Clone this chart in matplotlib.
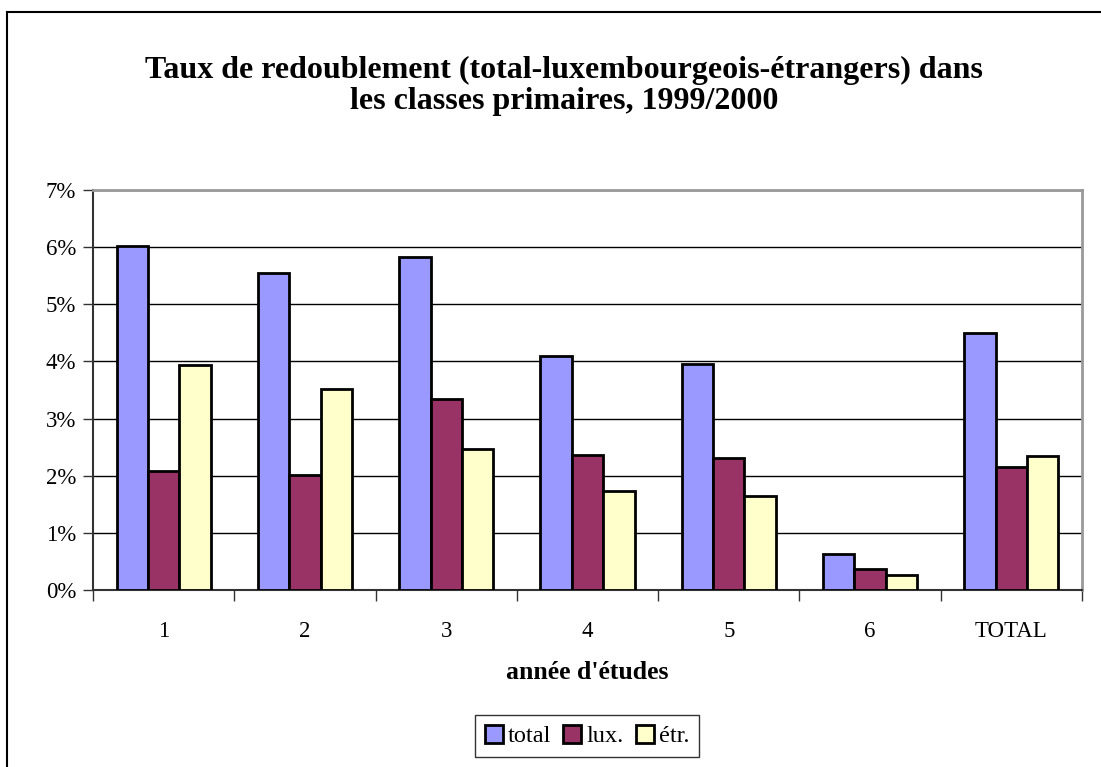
import numpy as np
import matplotlib
matplotlib.use('Agg')
import matplotlib.pyplot as plt
from matplotlib.patches import Rectangle
from matplotlib.ticker import FuncFormatter, FixedLocator

plt.rcParams['font.family'] = ['Liberation Serif', 'DejaVu Serif']

# données (taux de redoublement, en %)
categories = ['1', '2', '3', '4', '5', '6', 'TOTAL']
total = [6.02, 5.54, 5.82, 4.10, 3.95, 0.63, 4.50]
lux = [2.09, 2.02, 3.35, 2.36, 2.31, 0.36, 2.15]
etr = [3.93, 3.51, 2.47, 1.74, 1.65, 0.26, 2.35]
series_names = ['total', 'lux.', 'étr.']
colors = ['#9999FF', '#993366', '#FFFFCC']

W, H = 1101, 767
fig = plt.figure(figsize=(W / 100, H / 100), dpi=100)

# cadre extérieur
fig.patches.append(Rectangle((7 / W, -0.1), 2, 1.1 - 12 / H, transform=fig.transFigure,
                             fill=False, edgecolor='black', linewidth=1.5))

ax = fig.add_axes([93 / W, (H - 590) / H, (1082 - 93) / W, 400 / H])

x = np.arange(len(categories))
w = 1 / 4.5
for i, (vals, name, c) in enumerate(zip([total, lux, etr], series_names, colors)):
    ax.bar(x + (i - 1) * w, vals, width=w, color=c, edgecolor='black',
           linewidth=2, label=name, zorder=3)

ax.set_xlim(-0.5, len(categories) - 0.5)
ax.set_ylim(0, 7)
ax.set_yticks(np.arange(0, 8, 1))
ax.yaxis.set_major_formatter(FuncFormatter(lambda v, p: f'{int(v)}%'))
ax.yaxis.grid(True, color='black', linewidth=1, zorder=0)

ax.xaxis.set_major_locator(FixedLocator(np.arange(-0.5, len(categories), 1)))
ax.xaxis.set_minor_locator(FixedLocator(x))
ax.set_xticklabels([], minor=False)
ax.set_xticklabels(categories, minor=True)
ax.tick_params(axis='x', which='major', length=8, width=1, color='#333333')
ax.tick_params(axis='x', which='minor', length=0, pad=22, labelsize=16.5)
ax.tick_params(axis='y', length=7, width=1, color='#333333', pad=5, labelsize=16.5)

ax.spines['left'].set_color('#333333')
ax.spines['left'].set_linewidth(1.5)
ax.spines['bottom'].set_color('#333333')
ax.spines['bottom'].set_linewidth(1.5)
for s in ['top', 'right']:
    ax.spines[s].set_color('#999999')
    ax.spines[s].set_linewidth(2)

ax.set_xlabel("année d'études", fontsize=18.5, fontweight='bold', labelpad=14)

fig.text(564 / W, 1 - 86 / H,
         'Taux de redoublement (total-luxembourgeois-étrangers) dans\nles classes primaires, 1999/2000',
         ha='center', va='center', fontsize=23, fontweight='bold', linespacing=1.1)

leg = fig.legend(loc='center', bbox_to_anchor=(587 / W, 1 - 736 / H), ncol=3,
                 frameon=True, fancybox=False, fontsize=17.5, handlelength=0.75,
                 handleheight=0.75, handletextpad=0.2, columnspacing=0.5,
                 borderpad=0.4, borderaxespad=0)
leg.get_frame().set_edgecolor('black')
leg.get_frame().set_linewidth(1)

fig.savefig('out.png', dpi=100)
